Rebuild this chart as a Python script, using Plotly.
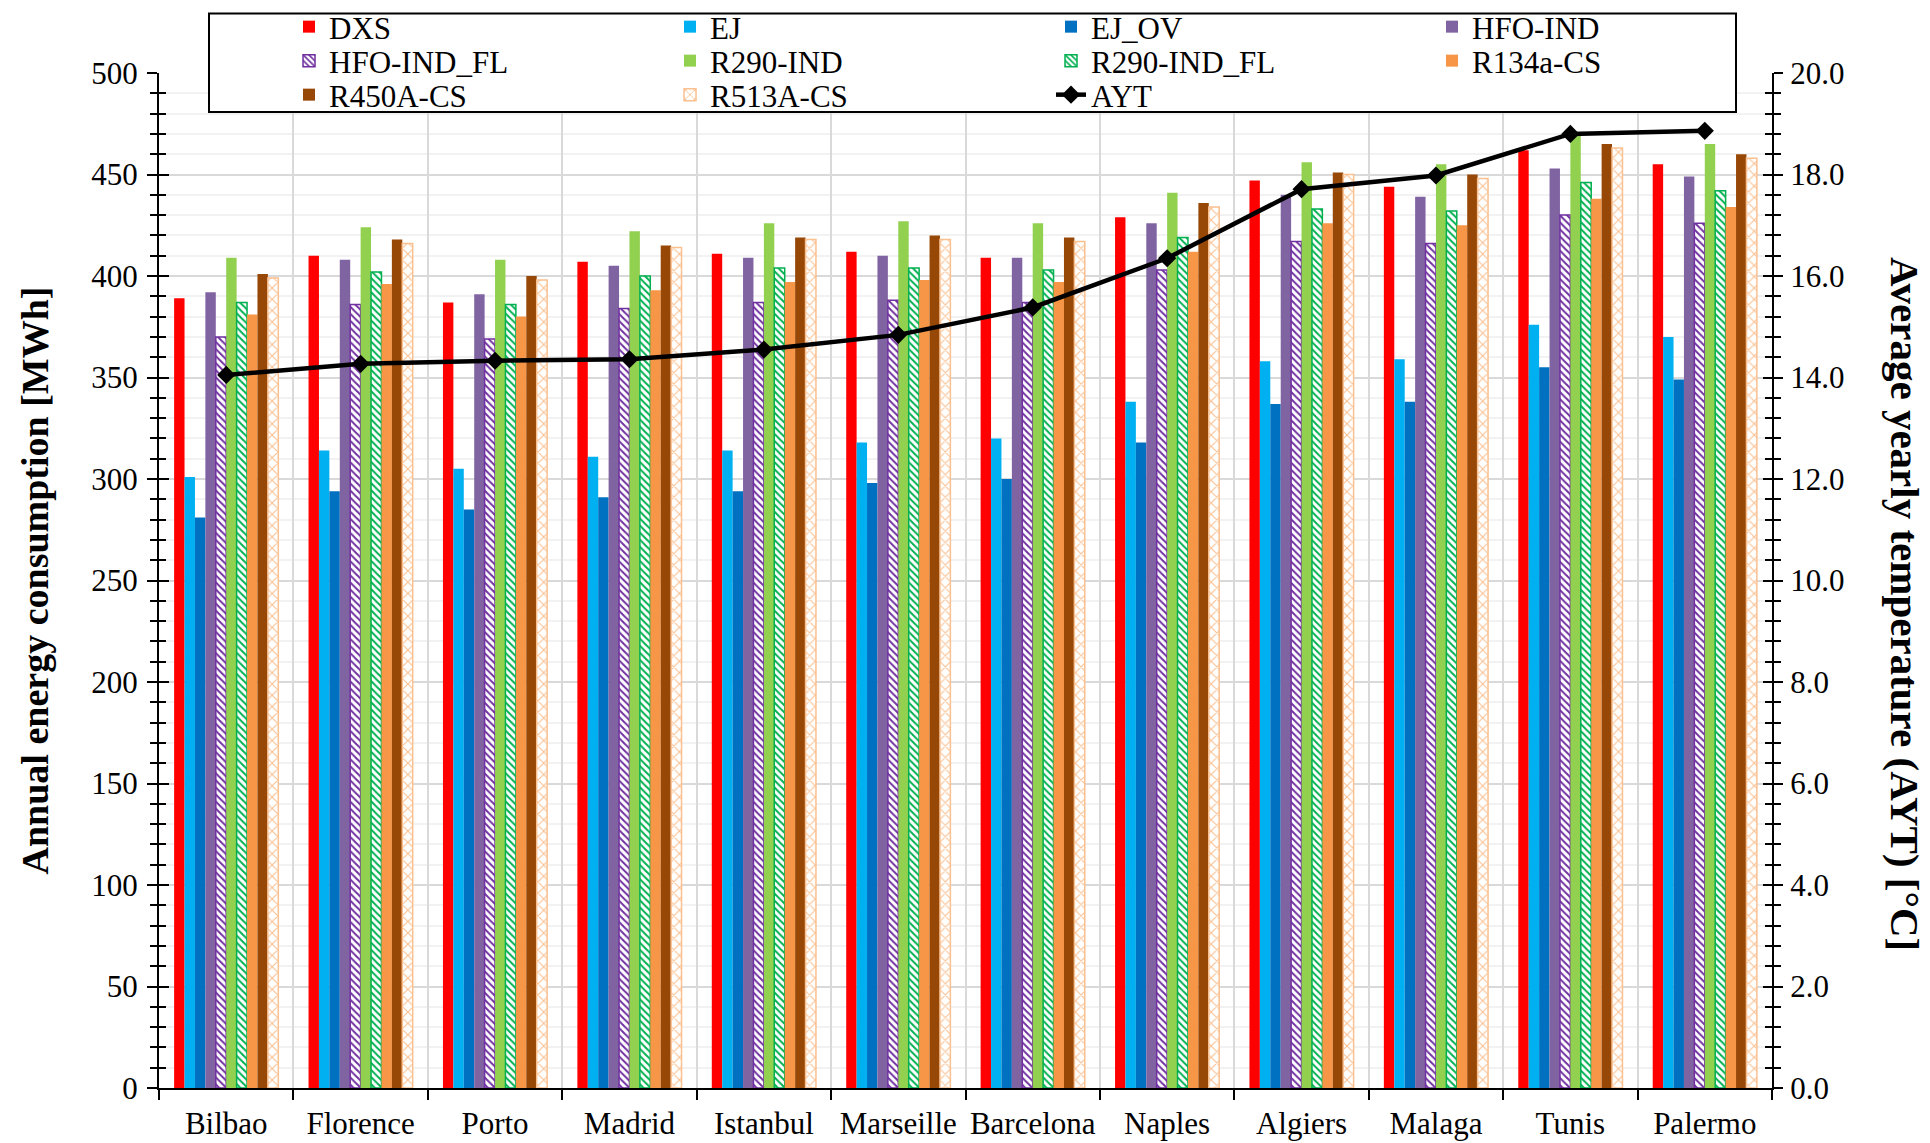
import plotly.graph_objects as go

cities = ["Bilbao", "Florence", "Porto", "Madrid", "Istanbul", "Marseille",
          "Barcelona", "Naples", "Algiers", "Malaga", "Tunis", "Palermo"]

dxs       = [389, 410, 387, 407, 411, 412, 409, 429, 447, 444, 462, 455]
ej        = [301, 314, 305, 311, 314, 318, 320, 338, 358, 359, 376, 370]
ej_ov     = [281, 294, 285, 291, 294, 298, 300, 318, 337, 338, 355, 349]
hfo_ind   = [392, 408, 391, 405, 409, 410, 409, 426, 440, 439, 453, 449]
hfo_fl    = [370, 386, 369, 384, 387, 388, 387, 403, 417, 416, 430, 426]
r290_ind  = [409, 424, 408, 422, 426, 427, 426, 441, 456, 455, 469, 465]
r290_fl   = [387, 402, 386, 400, 404, 404, 403, 419, 433, 432, 446, 442]
r134a_cs  = [381, 396, 380, 393, 397, 398, 397, 412, 426, 425, 438, 434]
r450a_cs  = [401, 418, 400, 415, 419, 420, 419, 436, 451, 450, 465, 460]
r513a_cs  = [399, 416, 398, 414, 418, 418, 417, 434, 450, 448, 463, 458]
ayt       = [14.05, 14.27, 14.33, 14.36, 14.55, 14.84, 15.38, 16.35, 17.71, 17.98, 18.80, 18.86]

FONT = "Liberation Serif, Times New Roman, serif"

# (name, values, marker style, legend row)
series = [
    ("DXS", dxs, dict(color="#FF0000"), "legend"),
    ("EJ", ej, dict(color="#00B0F0"), "legend"),
    ("EJ_OV", ej_ov, dict(color="#0070C0"), "legend"),
    ("HFO-IND", hfo_ind, dict(color="#8064A2"), "legend"),
    ("HFO-IND_FL", hfo_fl, dict(color="white",
                                pattern=dict(shape="\\", fgcolor="#7030A0", bgcolor="white",
                                             size=5, solidity=0.4, fillmode="replace"),
                                line=dict(color="#7030A0", width=1.5)), "legend2"),
    ("R290-IND", r290_ind, dict(color="#92D050"), "legend2"),
    ("R290-IND_FL", r290_fl, dict(color="white",
                                  pattern=dict(shape="\\", fgcolor="#00B050", bgcolor="white",
                                               size=5, solidity=0.4, fillmode="replace"),
                                  line=dict(color="#00B050", width=1.5)), "legend2"),
    ("R134a-CS", r134a_cs, dict(color="#F79646"), "legend2"),
    ("R450A-CS", r450a_cs, dict(color="#974706"), "legend3"),
    ("R513A-CS", r513a_cs, dict(color="white",
                                pattern=dict(shape="x", fgcolor="#FAC090", bgcolor="white",
                                             size=8, solidity=0.25, fillmode="replace"),
                                line=dict(color="#FAC090", width=1.5)), "legend3"),
]

fig = go.Figure()
for name, vals, mk, lg in series:
    if "line" not in mk:
        mk = dict(mk, line=dict(width=0))
    fig.add_trace(go.Bar(name=name, x=cities, y=vals, marker=mk, legend=lg))

fig.add_trace(go.Scatter(name="AYT", x=cities, y=ayt, yaxis="y2", mode="lines+markers",
                         line=dict(color="black", width=4.5),
                         marker=dict(symbol="diamond", size=14, color="black"),
                         legend="legend3"))
# empty helper traces so the inside-tick overlay axes are drawn
fig.add_trace(go.Scatter(x=[], y=[], yaxis="y3", showlegend=False, hoverinfo="skip"))
fig.add_trace(go.Scatter(x=[], y=[], yaxis="y4", showlegend=False, hoverinfo="skip"))

common_tick = dict(tickcolor="black", tickwidth=2)
TICKSIZE = 31

PLOT_TOP, PLOT_BOT = 73, 1088


def py(pix):
    return (PLOT_BOT - pix) / (PLOT_BOT - PLOT_TOP)


def legend_row(center_px):
    return dict(orientation="h", x=0.0806, xanchor="left", y=py(center_px), yanchor="middle",
                entrywidth=336, entrywidthmode="pixels", traceorder="normal",
                font=dict(family=FONT, size=31, color="black"),
                bgcolor="rgba(0,0,0,0)", borderwidth=0)


fig.update_layout(
    width=1930, height=1143,
    margin=dict(l=159, r=158, t=73, b=55, autoexpand=False),
    plot_bgcolor="white", paper_bgcolor="white",
    font=dict(family=FONT, color="black", size=TICKSIZE),
    barmode="group", bargap=0.225, bargroupgap=0,
    showlegend=True,
    xaxis=dict(type="category", range=[-0.5, len(cities) - 0.5],
               tickson="boundaries", ticks="outside", ticklen=10,
               tickangle=0,
               showline=True, linecolor="black", linewidth=2,
               showgrid=True, gridcolor="#D9D9D9", gridwidth=2,
               tickfont=dict(size=31), ticklabelstandoff=7, **common_tick),
    yaxis=dict(range=[0, 500], tickmode="linear", tick0=0, dtick=50,
               ticks="outside", ticklen=10, ticklabelstandoff=3,
               showline=True, linecolor="black", linewidth=2, zeroline=False,
               showgrid=True, gridcolor="#D9D9D9", gridwidth=2,
               minor=dict(dtick=10, ticks="outside", ticklen=7, tickcolor="black", tickwidth=2,
                          showgrid=True, gridcolor="#F2F2F2", gridwidth=2),
               tickfont=dict(size=TICKSIZE), **common_tick),
    yaxis2=dict(overlaying="y", side="right", anchor="x", range=[0, 20],
                tickmode="linear", tick0=0, dtick=2, tickformat=".1f",
                ticks="outside", ticklen=9, ticklabelstandoff=1,
                showline=True, linecolor="black", linewidth=2, zeroline=False,
                showgrid=False,
                minor=dict(dtick=0.4, ticks="outside", ticklen=7, tickcolor="black", tickwidth=2,
                           showgrid=False),
                tickfont=dict(size=TICKSIZE), **common_tick),
    yaxis3=dict(overlaying="y", side="left", anchor="x", range=[0, 500],
                tickmode="linear", tick0=0, dtick=50, ticks="inside", ticklen=10,
                showticklabels=False, showgrid=False, showline=False, zeroline=False,
                minor=dict(dtick=10, ticks="inside", ticklen=7, tickcolor="black", tickwidth=2,
                           showgrid=False),
                **common_tick),
    yaxis4=dict(overlaying="y", side="right", anchor="x", range=[0, 20],
                tickmode="linear", tick0=0, dtick=2, ticks="inside", ticklen=9,
                showticklabels=False, showgrid=False, showline=False, zeroline=False,
                minor=dict(dtick=0.4, ticks="inside", ticklen=7, tickcolor="black", tickwidth=2,
                           showgrid=False),
                **common_tick),
    legend=legend_row(27),
    legend2=legend_row(61),
    legend3=legend_row(95),
    shapes=[dict(type="rect", xref="paper", yref="paper",
                 x0=(209 - 159) / 1613, x1=(1736 - 159) / 1613, y0=py(112), y1=py(13.5),
                 fillcolor="white", line=dict(color="black", width=2), layer="above")],
    annotations=[
        dict(text="Annual energy consumption [MWh]", xref="paper", yref="paper",
             x=(34 - 159) / 1613, y=0.5, xanchor="center", yanchor="middle", textangle=-90,
             showarrow=False, font=dict(family=FONT, size=38, color="black", weight="bold")),
        dict(text="Average yearly temperature (AYT) [°C]", xref="paper", yref="paper",
             x=(1905 - 159) / 1613, y=py(604), xanchor="center", yanchor="middle", textangle=90,
             showarrow=False, font=dict(family=FONT, size=41, color="black", weight="bold")),
    ],
)

fig.write_html("out.html",
               config={"displayModeBar": False},
               post_script="document.body.style.margin='0';document.body.style.overflow='hidden';")
